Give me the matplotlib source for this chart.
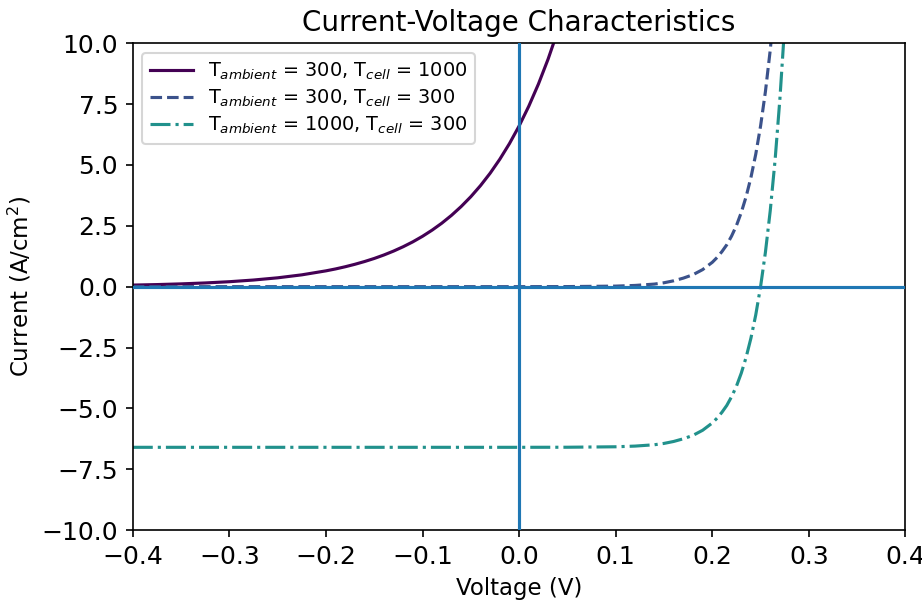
import matplotlib
matplotlib.use('Agg')
import matplotlib.pyplot as plt

# I-V curves
v_hot = [-0.40, -0.375, -0.35, -0.325, -0.30, -0.275, -0.25, -0.225, -0.20,
         -0.19, -0.18, -0.17, -0.16, -0.15, -0.14, -0.13, -0.12, -0.11,
         -0.10, -0.09, -0.08, -0.07, -0.06, -0.05, -0.04, -0.03, -0.02,
         -0.01, 0.00, 0.01, 0.02, 0.03, 0.04]
i_hot = [0.064, 0.085, 0.114, 0.152, 0.203, 0.272, 0.363, 0.485, 0.649,
         0.728, 0.818, 0.919, 1.032, 1.158, 1.301, 1.461, 1.641, 1.842,
         2.069, 2.324, 2.609, 2.930, 3.291, 3.695, 4.150, 4.660, 5.234,
         5.877, 6.600, 7.412, 8.323, 9.347, 10.50]

v_cold = [-0.40, -0.20, 0.00, 0.05, 0.10, 0.12, 0.14, 0.15, 0.16, 0.17,
          0.18, 0.19, 0.20, 0.205, 0.21, 0.215, 0.22, 0.225, 0.23, 0.235,
          0.24, 0.245, 0.25, 0.255, 0.26, 0.265, 0.27, 0.275]
i_dark = [0.0, 0.0, 0.0, 0.003, 0.022, 0.050, 0.105, 0.160, 0.240, 0.350,
          0.490, 0.700, 1.000, 1.200, 1.440, 1.720, 2.080, 2.509, 3.045,
          3.694, 4.483, 5.439, 6.600, 8.008, 9.717, 11.79, 14.31, 17.36]
i_lit = [-6.600, -6.600, -6.600, -6.597, -6.578, -6.550, -6.495, -6.440,
         -6.360, -6.250, -6.110, -5.900, -5.600, -5.400, -5.160, -4.880,
         -4.520, -4.091, -3.555, -2.906, -2.117, -1.161, 0.000, 1.408,
         3.117, 5.190, 7.710, 10.76]

labels = [r'T$_{ambient}$ = 300, T$_{cell}$ = 1000',
          r'T$_{ambient}$ = 300, T$_{cell}$ = 300',
          r'T$_{ambient}$ = 1000, T$_{cell}$ = 300']
colors = ['#440154', '#3b528b', '#21918c']

fig, ax = plt.subplots(figsize=(6.147, 4.007), dpi=150)
fig.subplots_adjust(left=0.144, right=0.982, top=0.928, bottom=0.118)

ax.plot(v_hot, i_hot, color=colors[0], linestyle='-', label=labels[0])
ax.plot(v_cold, i_dark, color=colors[1], linestyle='--', label=labels[1])
ax.plot(v_cold, i_lit, color=colors[2], linestyle='-.', label=labels[2])
ax.axhline(0, zorder=3)
ax.axvline(0, zorder=3)

ax.set_xlim(-0.4, 0.4)
ax.set_ylim(-10, 10)
ax.tick_params(labelsize=12)
ax.set_title('Current-Voltage Characteristics', fontsize=13.3)
ax.set_xlabel('Voltage (V)', fontsize=11)
ax.set_ylabel('Current (A/cm$^2$)', fontsize=11)
ax.legend(loc='upper left', fontsize=9.25, labelspacing=0.3, handlelength=2.2)

plt.savefig('out.png', dpi=150)
